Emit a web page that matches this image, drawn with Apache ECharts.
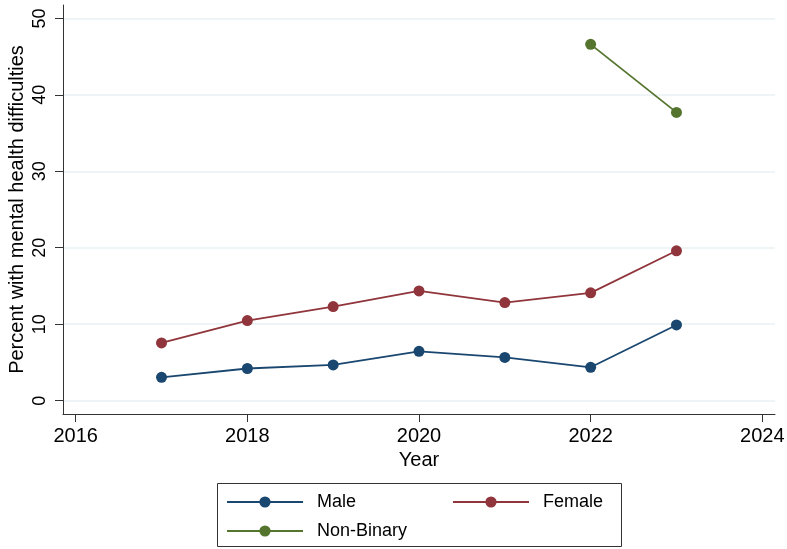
<!DOCTYPE html>
<html>
<head>
<meta charset="utf-8">
<script src="https://cdn.jsdelivr.net/npm/echarts@6/dist/echarts.min.js"></script>
<style>html,body{margin:0;padding:0;background:#fff}#c{width:787px;height:549px}</style>
</head>
<body>
<div id="c"></div>
<script>
const years = [2017, 2018, 2019, 2020, 2021, 2022, 2023];
const male = [3.05, 4.2, 4.67, 6.45, 5.65, 4.36, 9.9];
const female = [7.55, 10.47, 12.3, 14.35, 12.83, 14.1, 19.6];
const nonBinaryYears = [2022, 2023];
const nonBinary = [46.6, 37.7];
const xTicks = [2016, 2018, 2020, 2022, 2024];
const yTicks = [0, 10, 20, 30, 40, 50];

const colors = { male: '#1a476f', female: '#90353b', nb: '#55752f' };
const font = 'Liberation Sans, Arial, Helvetica, sans-serif';

function pairs(xs, ys) { return xs.map((x, i) => [x, ys[i]]); }
function series(name, data, color) {
  return {
    name, type: 'line', data, symbol: 'circle', symbolSize: 11,
    lineStyle: { color, width: 1.8 }, itemStyle: { color },
    emphasis: { disabled: true }, animation: false
  };
}
function legend(name, left, top) {
  return {
    data: [name], left, top, padding: 0, itemWidth: 76, itemHeight: 14,
    textStyle: { fontFamily: font, fontSize: 18, color: '#000', padding: [0, 0, 0, 9] },
    selectedMode: false
  };
}

const chart = echarts.init(document.getElementById('c'));
chart.setOption({
  backgroundColor: '#fff',
  animation: false,
  grid: { left: 63, right: 12, top: 5, bottom: 135, containLabel: false, outerBoundsMode: 'none' },
  xAxis: {
    type: 'value', min: 2015.852, max: 2024.148,
    name: 'Year', nameLocation: 'middle', nameGap: 36,
    nameTextStyle: { fontFamily: font, fontSize: 20, color: '#000' },
    axisLine: { show: true, onZero: false, lineStyle: { color: '#333', width: 1 } },
    axisTick: { show: true, length: 8, inside: false, customValues: xTicks, lineStyle: { color: '#333' } },
    axisLabel: { customValues: xTicks, margin: 12, fontFamily: font, fontSize: 20, color: '#000',
      formatter: v => String(v) },
    splitLine: { show: false }
  },
  yAxis: {
    type: 'value', min: -1.75, max: 51.75,
    name: 'Percent with mental health difficulties', nameLocation: 'middle', nameGap: 36,
    nameMoveOverlap: false,
    nameTextStyle: { fontFamily: font, fontSize: 20, color: '#000' },
    axisLine: { show: true, lineStyle: { color: '#333', width: 1 } },
    axisTick: { show: true, length: 8, customValues: yTicks, lineStyle: { color: '#333' } },
    axisLabel: { customValues: yTicks, rotate: 90, margin: 14, fontFamily: font, fontSize: 18, color: '#000',
      formatter: v => String(v) },
    splitLine: { show: true, lineStyle: { color: '#eaf2f3', width: 1.5 } }
  },
  legend: [
    legend('Male', 226, 493),
    legend('Female', 452, 493),
    legend('Non-Binary', 226, 522)
  ],
  graphic: [{
    type: 'rect', shape: { x: 217.5, y: 483.5, width: 404, height: 63 },
    style: { fill: 'none', stroke: '#333', lineWidth: 1 }, silent: true
  }],
  series: [
    series('Male', pairs(years, male), colors.male),
    series('Female', pairs(years, female), colors.female),
    series('Non-Binary', pairs(nonBinaryYears, nonBinary), colors.nb)
  ]
});
</script>
</body>
</html>
